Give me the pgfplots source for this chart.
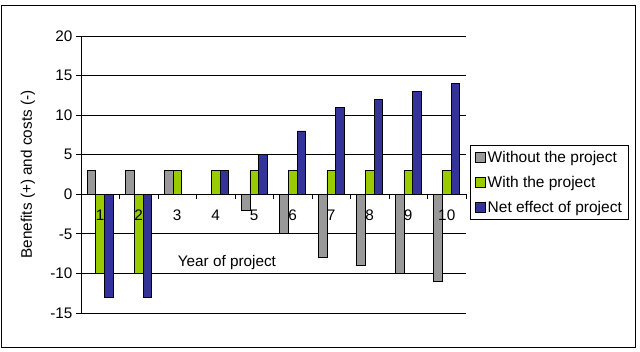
\documentclass[border=0pt]{standalone}
\usepackage{pgfplots}
\pgfplotsset{compat=1.18}
\usepackage{fontspec}
\setmainfont{Liberation Sans}
\definecolor{cgray}{HTML}{999999}
\definecolor{cgreen}{HTML}{99CC00}
\definecolor{cblue}{HTML}{333399}
\begin{document}
\begin{tikzpicture}[font=\fontsize{15.3pt}{18pt}\selectfont]
\useasboundingbox (-81pt,-38pt) rectangle (559pt,313pt);
\draw[black, line width=0.8pt] (-80pt,-34pt) rectangle (554pt,308pt);
\begin{axis}[
  at={(0pt,0pt)}, anchor=south west,
  scale only axis, width=385pt, height=277pt,
  xmin=0.5, xmax=10.5, ymin=-15, ymax=20,
  axis x line=middle, axis y line=left,
  axis line style={-, black, line width=0.8pt},
  ybar=0pt, bar width=8.7pt,
  xtick={1,...,10}, xticklabels={},
  major x tick style={draw=none},
  minor xtick={0.5,1.5,...,10.5},
  ytick={-15,-10,...,20},
  ymajorgrids, grid style={black, line width=0.8pt},
  tick align=outside, major tick length=5pt, minor tick length=5pt,
  tick style={black, line width=0.8pt},
  /pgf/number format/assume math mode=true,
  yticklabel style={font=\fontsize{15.3pt}{18pt}\selectfont},
  xlabel={Year of project},
  ylabel={Benefits (+) and costs (-)},
  every axis x label/.style={at={(axis description cs:0.379,0.1805)}, anchor=center},
  every axis y label/.style={at={(axis description cs:-0.1377,0.5)}, rotate=90, anchor=center},
  legend style={at={(axis description cs:1.0104,0.6065)}, anchor=north west,
    draw=black, line width=0.8pt, font=\fontsize{15.5pt}{18pt}\selectfont,
    row sep=8pt, inner xsep=4.5pt, inner ysep=4pt},
  legend cell align=left,
  legend image code/.code={\draw[#1, line width=0.8pt] (0pt,-5pt) rectangle (10pt,5pt);},
]
\addplot[fill=cgray, draw=black, line width=0.8pt] coordinates {(1,3)(2,3)(3,3)(4,0)(5,-2)(6,-5)(7,-8)(8,-9)(9,-10)(10,-11)};
\addplot[fill=cgreen, draw=black, line width=0.8pt] coordinates {(1,-10)(2,-10)(3,3)(4,3)(5,3)(6,3)(7,3)(8,3)(9,3)(10,3)};
\addplot[fill=cblue, draw=black, line width=0.8pt] coordinates {(1,-13)(2,-13)(3,0)(4,3)(5,5)(6,8)(7,11)(8,12)(9,13)(10,14)};
\legend{Without the project, With the project, Net effect of project}
\end{axis}
\begin{axis}[
  at={(0pt,0pt)}, anchor=south west,
  scale only axis, width=385pt, height=277pt,
  xmin=0.5, xmax=10.5, ymin=-15, ymax=20,
  axis x line=middle, axis y line=none,
  axis line style={draw=none},
  xtick={1,...,10}, ytick=\empty,
  major tick length=0pt,
  /pgf/number format/assume math mode=true,
  xticklabel style={font=\fontsize{15.3pt}{18pt}\selectfont, yshift=-12pt},
]
\end{axis}
\end{tikzpicture}
\end{document}
